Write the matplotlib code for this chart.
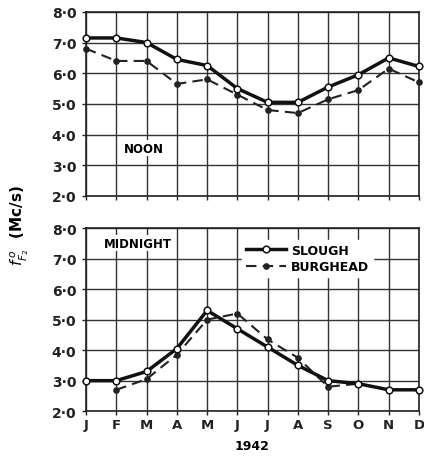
import matplotlib
matplotlib.use("Agg")
from matplotlib import pyplot as plt

months = ["J", "F", "M", "A", "M", "J", "J", "A", "S", "O", "N", "D"]
yticks = [2, 3, 4, 5, 6, 7, 8]
ytick_labels = ["2·0", "3·0", "4·0", "5·0", "6·0", "7·0", "8·0"]

noon_slough = [7.15, 7.15, 7.0, 6.45, 6.25, 5.5, 5.05, 5.05, 5.55, 5.95, 6.5, 6.22]
noon_burghead = [6.8, 6.4, 6.4, 5.65, 5.8, 5.3, 4.8, 4.7, 5.15, 5.45, 6.15, 5.7]

mid_slough = [3.0, 3.0, 3.3, 4.05, 5.3, 4.7, 4.1, 3.5, 3.0, 2.9, 2.7, 2.7]
mid_burghead = [None, 2.7, 3.05, 3.85, 5.0, 5.2, 4.35, 3.75, 2.8, 2.9, None, None]

plt.rcParams['font.family'] = ['DejaVu Sans']
fig = plt.figure(figsize=(4.24, 4.6), dpi=100)
ax1 = fig.add_axes([0.203, 0.572, 0.785, 0.400])
ax2 = fig.add_axes([0.203, 0.104, 0.785, 0.398])

x = list(range(len(months)))


def style(ax):
    ax.set_xlim(0, 11)
    ax.set_ylim(2, 8)
    ax.set_xticks(x)
    ax.set_yticks(yticks)
    ax.set_yticklabels(ytick_labels, fontsize=10, fontweight='bold')
    ax.grid(True, color='#333333', linewidth=1.0)
    ax.set_axisbelow(True)
    for s in ax.spines.values():
        s.set_linewidth(1.2)
        s.set_color('#222222')
    ax.tick_params(length=3, width=1, colors='#222222', pad=4)


def draw(ax, slough, burghead):
    bx = [i for i, v in zip(x, burghead) if v is not None]
    by = [v for v in burghead if v is not None]
    ax.plot(bx, by, color='#222222', linestyle=(0, (5, 3)), linewidth=1.5,
            marker='o', markersize=3.8, markerfacecolor='#222222',
            label='BURGHEAD', clip_on=False, zorder=3)
    ax.plot(x, slough, color='#111111', linewidth=2.5,
            marker='o', markersize=4.8, markerfacecolor='white',
            markeredgewidth=1.1, label='SLOUGH', clip_on=False, zorder=4)


style(ax1)
draw(ax1, noon_slough, noon_burghead)
ax1.set_xticklabels([])
ax1.text(1.9, 3.55, "NOON", fontsize=8.5, fontweight='bold', ha='center', va='center',
         bbox=dict(facecolor='white', edgecolor='none', pad=1))

style(ax2)
draw(ax2, mid_slough, mid_burghead)
ax2.set_xticklabels(months, fontsize=9.5, fontweight='bold')
ax2.tick_params(axis='x', pad=2)
ax2.text(1.7, 7.5, "MIDNIGHT", fontsize=8.5, fontweight='bold', ha='center', va='center',
         bbox=dict(facecolor='white', edgecolor='none', pad=1))
handles, labels = ax2.get_legend_handles_labels()
leg = ax2.legend(handles[::-1], labels[::-1], loc='upper right', bbox_to_anchor=(0.88, 0.97),
                 frameon=True, facecolor='white', edgecolor='white', framealpha=1,
                 prop={'weight': 'bold', 'size': 9}, handlelength=3.2,
                 borderpad=0.3, labelspacing=0.3, handletextpad=0.4)
ax2.set_xlabel("1942", fontsize=9, fontweight='bold', labelpad=6)

fig.text(0.045, 0.51, r"$f^{\,o}_{F_2}$  (Mc/s)", rotation=90, fontsize=11,
         fontweight='bold', ha='center', va='center')

fig.savefig("out.png", dpi=100)
